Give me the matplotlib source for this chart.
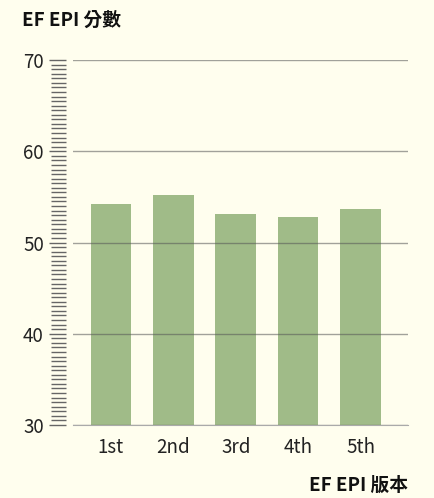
import matplotlib
matplotlib.use("Agg")
from matplotlib import pyplot
from matplotlib.ticker import MultipleLocator

pyplot.rcParams['font.family'] = ['Noto Sans CJK TC', 'DejaVu Sans']

# data
versions = ["1st", "2nd", "3rd", "4th", "5th"]
scores = [54.2, 55.2, 53.1, 52.8, 53.7]

bg = "#fffeee"
figure = pyplot.figure(figsize=(4.34, 4.98), dpi=100, facecolor=bg)
axis = figure.add_axes([0.168, 0.1466, 0.772, 0.7329], facecolor=bg)

axis.bar(versions, scores, width=0.65, color="#a0bb88", zorder=1)
axis.set_xlim(-0.61, 4.76)
axis.set_ylim(30, 70)
axis.yaxis.set_major_locator(MultipleLocator(10))
axis.yaxis.set_minor_locator(MultipleLocator(0.5))
axis.grid(axis='y', color="#555555", alpha=0.55, linewidth=1, zorder=2)
axis.set_axisbelow(False)

for side in ('top', 'right', 'left'):
    axis.spines[side].set_visible(False)
axis.spines['bottom'].set_color("#aaaaaa")
axis.spines['left'].set_position(('outward', 5))

axis.tick_params(axis='y', which='major', length=12, width=1.0, color="#666666",
                 labelsize=13.5, pad=4, labelcolor="#222222")
axis.tick_params(axis='y', which='minor', length=10.5, width=1.0, color="#666666")
axis.tick_params(axis='x', length=0, labelsize=13.5, pad=9, labelcolor="#222222")

figure.text(0.05, 0.96, "EF EPI 分數", fontsize=13.5, fontweight='bold', va='center',
            color="#111111")
figure.text(0.94, 0.026, "EF EPI 版本", fontsize=13.5, fontweight='bold',
            ha='right', va='center', color="#111111")

pyplot.savefig("out.png", dpi=100, facecolor=bg)
